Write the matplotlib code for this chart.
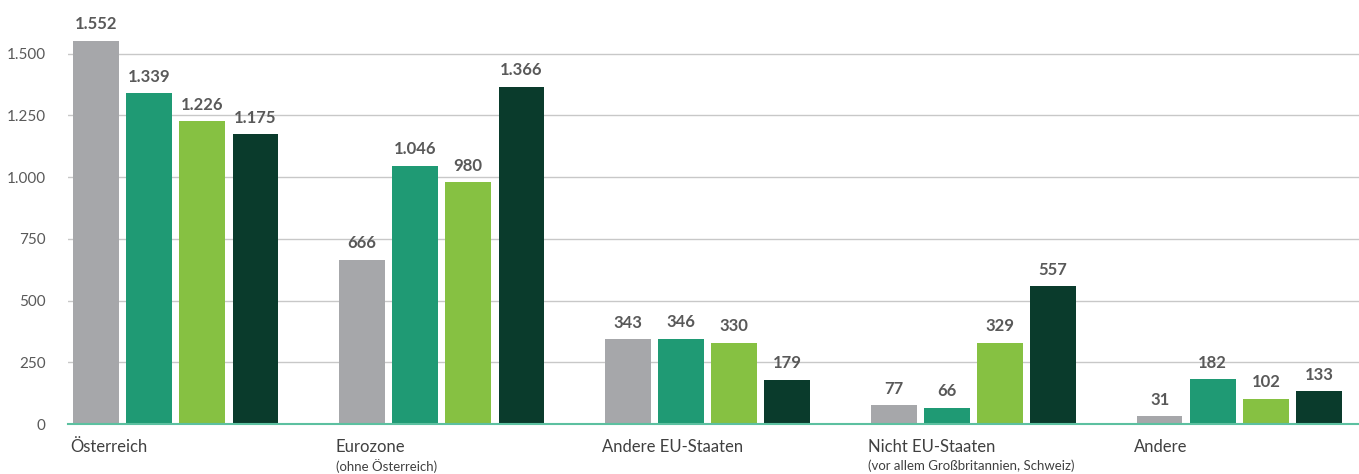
import matplotlib.pyplot as plt
import numpy as np

# categories and sub-captions
kategorien = ["Österreich", "Eurozone", "Andere EU-Staaten", "Nicht EU-Staaten", "Andere"]
unterzeilen = ["", "(ohne Österreich)", "", "(vor allem Großbritannien, Schweiz)", ""]

# four series per category (left to right)
serie_1 = [1552, 666, 343, 77, 31]
serie_2 = [1339, 1046, 346, 66, 182]
serie_3 = [1226, 980, 330, 329, 102]
serie_4 = [1175, 1366, 179, 557, 133]

yticks = [0, 250, 500, 750, 1000, 1250, 1500]

farben = ["#a6a7aa", "#1f9a74", "#86c142", "#0a3b2c"]

plt.rcParams['font.family'] = ['Lato', 'DejaVu Sans']

fig = plt.figure(figsize=(13.59, 4.74), dpi=100)
ax = fig.add_axes([68/1359, 50/474, 1 - 68/1359, 1 - 50/474])

x = np.arange(len(kategorien))
pitch = 0.2
breite = 0.172
alle = [serie_1, serie_2, serie_3, serie_4]
for i, werte in enumerate(alle):
    pos = x + (i - 1.5) * pitch
    bars = ax.bar(pos, werte, width=breite, color=farben[i], zorder=3)
    for b, v in zip(bars, werte):
        txt = f"{v:,}".replace(",", ".")
        ax.annotate(txt, (b.get_x() + b.get_width() / 2, v), xytext=(0, 6),
                    textcoords="offset points", ha="center", va="bottom",
                    fontsize=12, fontweight="bold", color="#595959")

ax.set_xlim(-0.405, 4.45)
ax.set_ylim(0, 1717)
ax.set_yticks(yticks)
ax.set_yticklabels([f"{t:,}".replace(",", ".") for t in yticks], fontsize=11, color="#595959")
ax.tick_params(axis="y", length=0, pad=16)
ax.set_xticks([])
ax.grid(axis="y", color="#c8c8c8", linewidth=1, zorder=0)
for s in ["top", "right", "left"]:
    ax.spines[s].set_visible(False)
ax.spines["bottom"].set_color("#5cc0a0")
ax.spines["bottom"].set_linewidth(1.5)
ax.spines["bottom"].set_zorder(4)

# category labels, left aligned under first bar of each group
for i, (k, u) in enumerate(zip(kategorien, unterzeilen)):
    left = i - 1.5 * pitch - breite / 2 - 0.012
    ax.text(left, -0.036, k, transform=ax.get_xaxis_transform(), ha="left", va="top",
            fontsize=12, color="#404040")
    if u:
        ax.text(left, -0.083, u, transform=ax.get_xaxis_transform(), ha="left", va="top",
                fontsize=9.5, color="#404040")

fig.savefig("out.png", dpi=100)
